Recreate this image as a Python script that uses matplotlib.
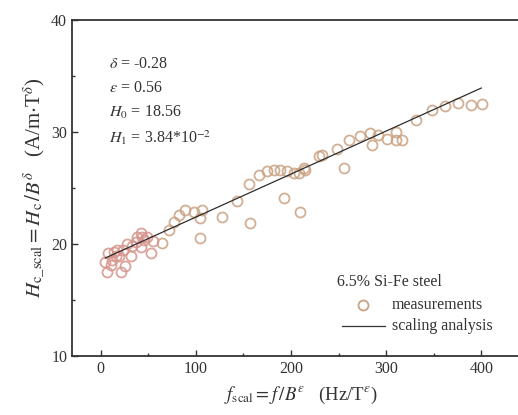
import matplotlib
matplotlib.use("Agg")
import matplotlib.pyplot as plt
from matplotlib.lines import Line2D

plt.rcParams['font.family'] = ['Liberation Serif', 'DejaVu Serif']
plt.rcParams['mathtext.fontset'] = 'stix'

# measured scaled coercivity vs scaled frequency
f_scal = [7, 10.5, 15.8, 17.5, 21, 26, 31.5, 33, 36.8, 42, 43.8, 42, 49, 52.5,
          65, 72, 77, 82, 89, 98, 107, 105, 105, 128, 143.6, 157.5, 155.8, 166,
          175, 182, 189, 196, 203, 208, 215, 192.5, 210, 213.6, 229, 233, 248.6,
          255.6, 260.8, 273, 283.6, 285, 292, 301, 310, 310, 317, 331, 348, 362,
          376, 388.7, 401,
          5, 8, 12, 14, 19, 24, 28, 38, 46, 55]
h_scal = [17.5, 18.1, 18.9, 19.5, 17.5, 18.0, 18.9, 19.8, 20.2, 19.75, 20.65, 21.0, 20.65, 19.2,
          20.05, 21.25, 22.0, 22.6, 23.0, 22.9, 23.0, 22.3, 20.5, 22.4, 23.8, 21.85, 25.4, 26.2,
          26.5, 26.6, 26.6, 26.5, 26.3, 26.3, 26.6, 24.1, 22.9, 26.75, 27.9, 27.95, 28.5,
          26.8, 29.3, 29.6, 29.9, 28.8, 29.7, 29.4, 30.0, 29.3, 29.3, 31.1, 32.0, 32.3,
          32.6, 32.4, 32.5,
          18.4, 19.2, 18.6, 19.3, 18.9, 19.5, 20.0, 20.6, 20.4, 20.3]

# scaling law H = H0 + H1 * f_scal
delta = -0.28
eps = 0.56
H0 = 18.56
H1 = 3.84e-2
fit_x = [5, 400]
fit_y = [H0 + H1 * x for x in fit_x]

x_ticks = [0, 100, 200, 300, 400]
y_ticks = [10, 20, 30, 40]

MARK = '#c9a283'
MARK_LOW = '#d6948c'
TXT = '#333333'

fig = plt.figure(figsize=(5.18, 4.15), dpi=100)
ax = fig.add_axes([0.139, 0.142, 0.882, 0.810])

low = [(x, y) for x, y in zip(f_scal, h_scal) if x < 60]
high = [(x, y) for x, y in zip(f_scal, h_scal) if x >= 60]
for pts, col in ((high, MARK), (low, MARK_LOW)):
    ax.plot([p[0] for p in pts], [p[1] for p in pts], linestyle='none',
            marker='o', markersize=7.2, markerfacecolor='none',
            markeredgecolor=col, markeredgewidth=1.3, alpha=0.85)
ax.plot(fit_x, fit_y, color='#2e2e2e', linewidth=0.9)

ax.set_xlim(-30, 450)
ax.set_ylim(10, 40)
ax.set_xticks(x_ticks)
ax.set_yticks(y_ticks)
ax.set_xticks([50, 150, 250, 350], minor=True)
ax.set_yticks([15, 25, 35], minor=True)
ax.tick_params(which='both', direction='in', labelsize=11.5, colors=TXT)
ax.tick_params(which='major', length=4, width=1)
ax.tick_params(which='minor', length=2.5, width=1)
for s in ax.spines.values():
    s.set_linewidth(1.3)
    s.set_color(TXT)

ax.set_xlabel(r'$f_{\rm scal}=f\,/B^{\varepsilon}$   (Hz/T$^{\varepsilon}$)',
              fontsize=13.5, color=TXT, labelpad=6)
ax.set_ylabel(r'$H_{\rm c\_scal}=H_{\rm c}\,/B^{\delta}$   (A/m$\cdot$T$^{\delta}$)',
              fontsize=15, color=TXT, labelpad=3)

params = [r'$\delta$ = -0.28', r'$\varepsilon$ = 0.56',
          r'$H_0$ = 18.56', r'$H_1$ = 3.84*10$^{-2}$']
for i, t in enumerate(params):
    ax.text(0.08, 0.87 - i * 0.073, t, transform=ax.transAxes,
            fontsize=11.5, color=TXT, va='center')

ax.text(0.58, 0.22, '6.5% Si-Fe steel', transform=ax.transAxes,
        fontsize=11.5, color=TXT, va='center')
ax.plot([0.637], [0.152], transform=ax.transAxes, linestyle='none', marker='o',
        markersize=7.2, markerfacecolor='none', markeredgecolor=MARK,
        markeredgewidth=1.3)
ax.text(0.70, 0.152, 'measurements', transform=ax.transAxes,
        fontsize=11.5, color=TXT, va='center')
ax.add_line(Line2D([0.592, 0.684], [0.089, 0.089], transform=ax.transAxes,
                   color=TXT, linewidth=0.9))
ax.text(0.70, 0.089, 'scaling analysis', transform=ax.transAxes,
        fontsize=11.5, color=TXT, va='center')

fig.savefig('out.png', dpi=100)
